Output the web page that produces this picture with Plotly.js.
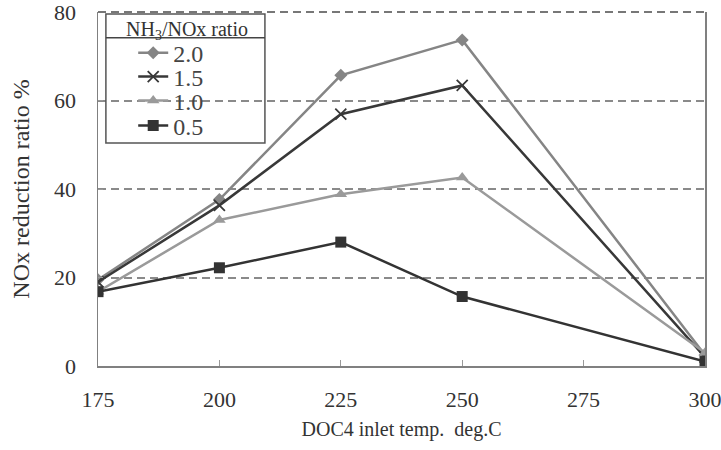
<!DOCTYPE html>
<html>
<head>
<meta charset="utf-8">
<script src="https://cdn.plot.ly/plotly-3.0.1.min.js"></script>
<style>html,body{margin:0;padding:0;background:#fff;}#chart{width:721px;height:450px;}</style>
</head>
<body>
<div id="chart"></div>
<script>
const temps = [175, 200, 225, 250, 300];
const ratio20 = [19.5, 37.6, 65.7, 73.7, 2.5];
const ratio15 = [19.0, 36.3, 56.9, 63.4, 2.0];
const ratio10 = [16.8, 33.0, 38.8, 42.6, 3.0];
const ratio05 = [16.8, 22.2, 28.0, 15.7, 1.0];
const seriesNames = ['2.0', '1.5', '1.0', '0.5'];
const legendTitle = 'NH<sub>3</sub>/NOx ratio';
const xTicks = [175, 200, 225, 250, 275, 300];
const yTicks = [0, 20, 40, 60, 80];

const font = 'Liberation Serif, Times New Roman, serif';
function tr(y, name, color, symbol, size, legendId) {
  return {
    x: temps, y: y, name: name, type: 'scatter', mode: 'lines+markers', legend: legendId,
    line: {color: color, width: 2.5},
    marker: {symbol: symbol, size: size, color: color, line: {color: color, width: symbol === 'x-thin' ? 1.8 : 0}}
  };
}
const data = [
  tr(ratio20, seriesNames[0], '#858585', 'diamond', 10, 'legend'),
  tr(ratio15, seriesNames[1], '#383838', 'x-thin', 11, 'legend2'),
  tr(ratio10, seriesNames[2], '#9a9a9a', 'triangle-up', 11, 'legend3'),
  tr(ratio05, seriesNames[3], '#333333', 'square', 11, 'legend4')
];
function leg(yc) {
  return {
    x: 0.058, y: yc, xanchor: 'left', yanchor: 'middle',
    bgcolor: 'rgba(0,0,0,0)', borderwidth: 0,
    font: {family: font, size: 24, color: '#444'}
  };
}
const layout = {
  width: 721, height: 450,
  margin: {l: 98, r: 16, t: 12, b: 84},
  paper_bgcolor: '#fff', plot_bgcolor: '#fff',
  font: {family: font, color: '#333', size: 22},
  showlegend: true,
  legend: leg(0.884),
  legend2: leg(0.8164),
  legend3: leg(0.7486),
  legend4: leg(0.678),
  xaxis: {
    range: [175, 300], tickvals: xTicks, ticktext: xTicks.map(String),
    showgrid: false, zeroline: false, showline: true, linecolor: '#808080', linewidth: 1.5,
    ticks: 'inside', ticklen: 6, tickcolor: '#999', ticklabelstandoff: 13, ticklabeloverflow: 'allow',
    tickfont: {family: font, size: 22, color: '#333'},
    title: {text: 'DOC4 inlet temp.  deg.C', font: {family: font, size: 20, color: '#333'}, standoff: 11}
  },
  yaxis: {
    range: [0, 80], tickvals: yTicks, ticktext: yTicks.map(String),
    showgrid: true, gridcolor: '#8a8a8a', griddash: '8px,5px', gridwidth: 2,
    zeroline: false, showline: true, linecolor: '#808080', linewidth: 1.5, mirror: true,
    ticks: 'inside', ticklen: 5, tickcolor: '#999', ticklabelstandoff: 16, ticklabeloverflow: 'allow',
    tickfont: {family: font, size: 22, color: '#333'},
    title: {text: 'NOx reduction ratio %', font: {family: font, size: 24, color: '#333'}, standoff: 17}
  },
  annotations: [
    {xref: 'paper', yref: 'paper', x: 0.147, y: 0.948, xanchor: 'center', yanchor: 'middle',
     text: legendTitle, showarrow: false, font: {family: font, size: 20, color: '#333'}}
  ],
  shapes: [
    {type: 'line', xref: 'paper', yref: 'paper', x0: 0, x1: 1, y0: 1, y1: 1, line: {color: '#777', width: 2, dash: '8px,5px'}},
    {type: 'rect', xref: 'paper', yref: 'paper', x0: 0.013, x1: 0.275, y0: 0.63, y1: 0.994, line: {color: '#555', width: 1.5}},
    {type: 'line', xref: 'paper', yref: 'paper', x0: 0.013, x1: 0.275, y0: 0.927, y1: 0.927, line: {color: '#444', width: 1.5}}
  ]
};
Plotly.newPlot('chart', data, layout, {displayModeBar: false, staticPlot: true});
</script>
</body>
</html>
